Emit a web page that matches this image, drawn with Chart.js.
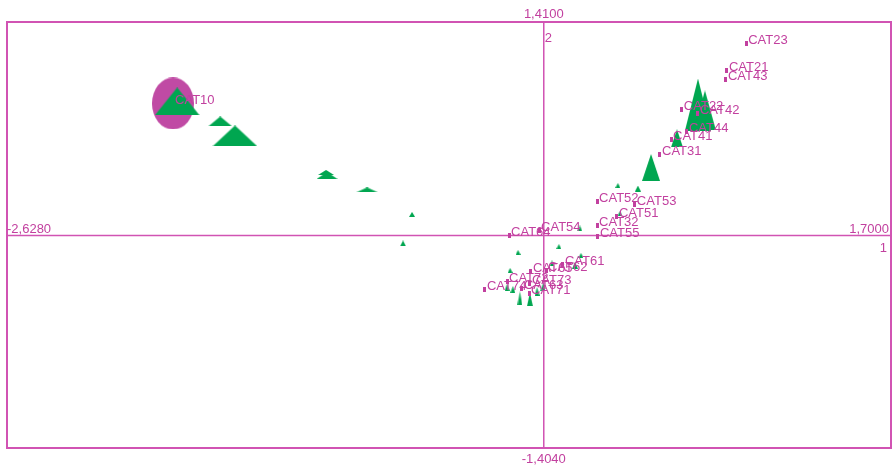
<!DOCTYPE html>
<html>
<head>
<meta charset="utf-8">
<script src="https://cdn.jsdelivr.net/npm/chart.js@4"></script>
<style>
  html, body { margin: 0; padding: 0; background: #fff; }
  #wrap { width: 894px; height: 469px; position: relative; }
</style>
</head>
<body>
<div id="wrap"><canvas id="plot"></canvas></div>
<script>
// axis range (as printed on the frame)
const xMin = -2.628, xMax = 1.7;
const yMin = -1.404, yMax = 1.41;
const axisLabels = ["1,4100", "-1,4040", "-2,6280", "1,7000", "2", "1"];

// categories (magenta markers)
const catNames = ["CAT23", "CAT21", "CAT43", "CAT22", "CAT42", "CAT44", "CAT41", "CAT31",
  "CAT52", "CAT53", "CAT51", "CAT32", "CAT55", "CAT54", "CAT64", "CAT61", "CAT65", "CAT62",
  "CAT72", "CAT73", "CAT63", "CAT74", "CAT71"];
const catX = [0.991, 0.897, 0.892, 0.676, 0.755, 0.701, 0.623, 0.569,
  0.261, 0.446, 0.358, 0.261, 0.265, -0.023, -0.170, 0.094, -0.063, 0.011,
  -0.180, -0.068, -0.107, -0.288, -0.072];
const catY = [1.268, 1.090, 1.030, 0.832, 0.806, 0.687, 0.634, 0.535,
  0.225, 0.205, 0.125, 0.066, -0.007, 0.033, 0.000, -0.192, -0.238, -0.231,
  -0.304, -0.317, -0.350, -0.357, -0.383];

// highlighted category
const bigName = "CAT10";
const bigX = [-1.815];
const bigY = [0.872];

// green triangles: position and the two size values (width, height)
const triX = [-1.795, -1.584, -1.512, -1.061, -1.066, -0.865, -0.645, -0.689,
  0.755, 0.789, 0.652, 0.525, 0.363, 0.461, 0.373, 0.177, 0.074, -0.126, 0.182,
  -0.165, 0.040, 0.153, -0.151, -0.117, -0.068, -0.033, -0.180, -0.004];
const triY = [0.885, 0.753, 0.657, 0.396, 0.416, 0.301, 0.139, -0.053,
  0.865, 0.826, 0.641, 0.449, 0.330, 0.310, 0.145, 0.046, -0.073, -0.112, -0.132,
  -0.231, -0.185, -0.198, -0.357, -0.416, -0.423, -0.370, -0.343, -0.343];
const triW = [45, 24, 45, 21, 16, 22, 6, 6,
  26, 22, 12, 18, 5, 6, 5, 5, 5, 5, 5,
  5, 5, 6, 5, 5, 6, 5, 5, 5];
const triH = [28, 10, 21, 7, 5, 5, 5, 6,
  52, 40, 18, 27, 5, 6, 5, 6, 5, 5, 5,
  5, 6, 7, 7, 14, 14, 9, 7, 8];

const MAGENTA = "#c2409f";
const LINE = "#d153b3";
const GREEN = "#00a650";
const FONT = '13px "Liberation Sans", Arial, sans-serif';

// build a triangle image for one marker
function triangleCanvas(w, h) {
  const c = document.createElement("canvas");
  c.width = w; c.height = h;
  const g = c.getContext("2d");
  g.fillStyle = GREEN;
  g.beginPath();
  g.moveTo(w / 2, 0);
  g.lineTo(w, h);
  g.lineTo(0, h);
  g.closePath();
  g.fill();
  return c;
}

function ellipseCanvas(w, h) {
  const c = document.createElement("canvas");
  c.width = w; c.height = h;
  const g = c.getContext("2d");
  g.fillStyle = "#c04aa4";
  g.beginPath();
  g.ellipse(w / 2, h / 2, w / 2, h / 2, 0, 0, Math.PI * 2);
  g.fill();
  return c;
}

function barCanvas() {
  const c = document.createElement("canvas");
  c.width = 3; c.height = 5;
  const g = c.getContext("2d");
  g.fillStyle = MAGENTA;
  g.fillRect(0, 0, 3, 5);
  return c;
}

const catPoints = catX.map((x, i) => ({ x: x, y: catY[i] }));
const triPoints = triX.map((x, i) => ({ x: x, y: triY[i] }));
const triShapes = triW.map((w, i) => triangleCanvas(w, triH[i]));
const bigPoints = bigX.map((x, i) => ({ x: x, y: bigY[i] }));

// frame, axes and fixed labels
const framePlugin = {
  id: "frame",
  beforeDatasetsDraw(chart) {
    const { ctx, chartArea: a, scales } = chart;
    const x0 = scales.x.getPixelForValue(0);
    const y0 = scales.y.getPixelForValue(0);
    ctx.save();
    ctx.strokeStyle = LINE;
    ctx.lineWidth = 2;
    ctx.strokeRect(a.left, a.top, a.right - a.left, a.bottom - a.top);
    ctx.lineWidth = 1.5;
    ctx.beginPath();
    ctx.moveTo(x0, a.top); ctx.lineTo(x0, a.bottom);
    ctx.moveTo(a.left, y0); ctx.lineTo(a.right, y0);
    ctx.stroke();
    ctx.restore();
  },
  afterDatasetsDraw(chart) {
    const { ctx, chartArea: a, scales } = chart;
    const x0 = scales.x.getPixelForValue(0);
    const y0 = scales.y.getPixelForValue(0);
    ctx.save();
    ctx.font = FONT;
    ctx.fillStyle = MAGENTA;
    ctx.textBaseline = "middle";

    ctx.textAlign = "center";
    ctx.fillText(axisLabels[0], x0, a.top - 8);
    ctx.fillText(axisLabels[1], x0, a.bottom + 11);
    ctx.textAlign = "left";
    ctx.fillText(axisLabels[2], a.left, y0 - 6);
    ctx.fillText(axisLabels[4], x0 + 1, a.top + 16);
    ctx.textAlign = "right";
    ctx.fillText(axisLabels[3], a.right - 2, y0 - 6);
    ctx.fillText(axisLabels[5], a.right - 4, y0 + 13);

    // category labels
    ctx.textAlign = "left";
    const meta = chart.getDatasetMeta(0);
    meta.data.forEach((pt, i) => {
      ctx.fillText(catNames[i], pt.x + 2, pt.y - 3);
    });
    const bm = chart.getDatasetMeta(2);
    ctx.fillText(bigName, bm.data[0].x + 2, bm.data[0].y - 3);
    ctx.restore();
  }
};

new Chart(document.getElementById("plot"), {
  type: "scatter",
  data: {
    datasets: [
      {
        label: "categories",
        data: catPoints,
        pointStyle: barCanvas(),
        pointRadius: 3,
        clip: false
      },
      {
        label: "triangles",
        data: triPoints,
        pointStyle: triShapes,
        pointRadius: 5,
        clip: false
      },
      {
        label: bigName,
        data: bigPoints,
        pointStyle: ellipseCanvas(42, 52),
        pointRadius: 20,
        clip: false
      }
    ]
  },
  options: {
    responsive: true,
    maintainAspectRatio: false,
    animation: false,
    layout: { autoPadding: false, padding: { left: 7, right: 3, top: 22, bottom: 21 } },
    plugins: { legend: { display: false }, tooltip: { enabled: false } },
    scales: {
      x: { type: "linear", min: xMin, max: xMax, display: false },
      y: { type: "linear", min: yMin, max: yMax, display: false }
    }
  },
  plugins: [framePlugin]
});
</script>
</body>
</html>
